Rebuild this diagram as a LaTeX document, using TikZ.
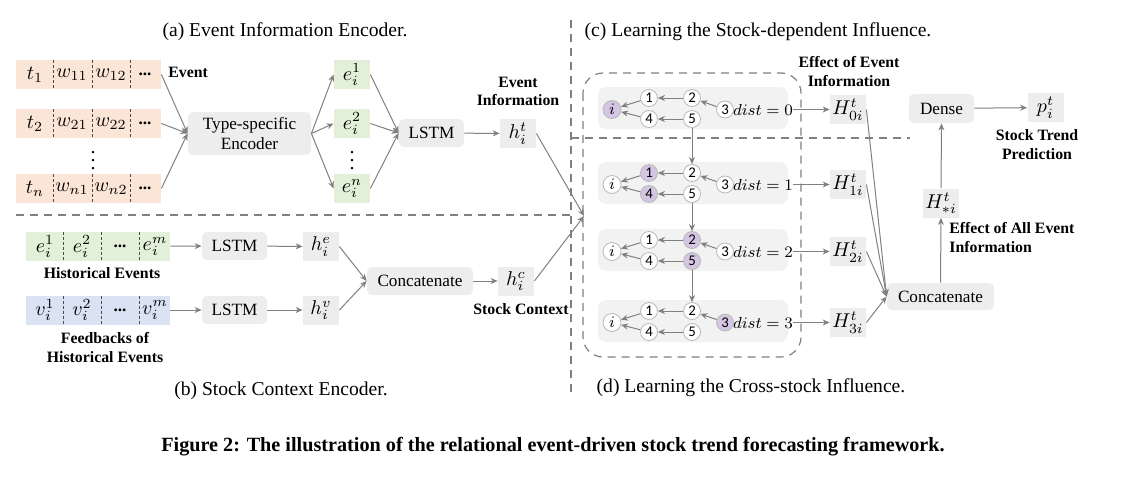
\documentclass[tikz,border=0pt]{standalone}
\usepackage{fontspec}
\setmainfont{Liberation Serif}
\newfontfamily\circfam{Carlito}
\usetikzlibrary{arrows.meta,positioning,calc}
\definecolor{evorange}{HTML}{FBE5D6}
\definecolor{evgreen}{HTML}{E2F0D9}
\definecolor{evblue}{HTML}{DAE3F3}
\definecolor{boxgray}{HTML}{EDEDED}
\definecolor{panelgray}{HTML}{F2F2F2}
\definecolor{nodehl}{HTML}{D4C5E2}
\definecolor{linegray}{HTML}{808080}
\newcommand\boxfont{\fontsize{8.6}{10}\selectfont}
\newcommand\mathfnt{\fontsize{10}{11}\selectfont}
\newcommand\lblfont{\fontsize{7.9}{9.4}\selectfont\bfseries}
\newcommand\ttlfont{\fontsize{9.8}{11}\selectfont}
\newcommand\circfont{\fontsize{7.4}{8}\selectfont\circfam}

\begin{document}
\begin{tikzpicture}[x=0.5pt, y=-0.5pt,
  b/.style={rectangle, rounded corners=2.5pt, fill=boxgray, font=\boxfont, align=center, inner sep=1pt, minimum height=14pt},
  v/.style={rectangle, fill=#1, minimum width=18pt, minimum height=14.5pt, inner sep=0pt, font=\mathfnt},
  v/.default=boxgray,
  row/.style={rectangle, fill=#1, minimum width=72.5pt, minimum height=14.5pt, inner sep=0pt},
  div/.style={line width=0.4pt, black!70, dash pattern=on 1.5pt off 1pt},
  sep/.style={line width=0.6pt, linegray, dash pattern=on 4pt off 3pt},
  arr/.style={-{Stealth[length=3.5pt,width=3pt]}, line width=0.5pt, linegray},
  lbl/.style={font=\lblfont, align=center, inner sep=0pt},
  ttl/.style={font=\ttlfont, inner sep=0pt},
  c/.style={circle, draw=gray!55, line width=0.4pt, fill=#1, minimum size=8.5pt, inner sep=0pt, font=\circfont},
  pnl/.style={rectangle, rounded corners=4pt, fill=panelgray, minimum width=95pt, minimum height=21pt}
]
  \useasboundingbox (0,0) rectangle (1123,482);
  % section titles and dividers
  \node[ttl] (ta) at (285,32) {(a) Event Information Encoder.};
  \node[ttl] (tc) at (758,32) {(c) Learning the Stock-dependent Influence.};
  \node[ttl] (tb) at (281,391) {(b) Stock Context Encoder.};
  \node[ttl] (td) at (751,388) {(d) Learning the Cross-stock Influence.};
  \draw[sep] (16,215) -- (571,215);
  \draw[sep] (571,20) -- (571,397);
  \draw[sep] (571,138) -- (910,138);
  \draw[sep, rounded corners=10pt] (583,73) rectangle (801,357);

  % (a) event rows
  \foreach \y/\k/\a/\b in {74.5/1/11/12, 123.5/2/21/22, 188.5/n/n1/n2}{
    \node[row=evorange] (ev\k) at (88.5,\y) {};
    \node[font=\mathfnt] at (35,\y) {$t_{\k}$};
    \node[font=\mathfnt] at (72,\y) {$w_{\a}$};
    \node[font=\mathfnt] at (111,\y) {$w_{\b}$};
    \node[font=\boxfont\bfseries] at (145,\y) {...};
    \foreach \x in {53,92,130} \draw[div] (\x,\y-14.5) -- (\x,\y+14.5);
  }
  \node[font=\mathfnt] (evdots) at (93,155) {$\vdots$};
  \node[lbl, anchor=west] (evlbl) at (168,72) {Event};
  \node[b, minimum width=61.5pt, minimum height=21.5pt] (enc) at (249.5,133.5) {Type-specific\\Encoder};
  \node[v=evgreen] (e1) at (352,74.5) {$e_i^1$};
  \node[v=evgreen] (e2) at (352,123.5) {$e_i^2$};
  \node[v=evgreen] (en) at (352,188.5) {$e_i^n$};
  \node[font=\mathfnt] (edots) at (352,155) {$\vdots$};
  \node[b, minimum width=32.5pt] (lstm) at (431.5,133) {LSTM};
  \node[v] (ht) at (518,133.5) {$h_i^t$};
  \node[lbl] (htlbl) at (518,91.5) {Event\\Information};
  \foreach \k in {ev1,ev2,evn} \draw[arr] (\k.east) -- (enc.west);
  \foreach \k in {e1,e2,en}{\draw[arr] (enc.east) -- (\k.west); \draw[arr] (\k.east) -- (lstm.west);}
  \draw[arr] (lstm) -- (ht);

  % (b) stock context
  \node[row=evgreen, minimum width=72pt] (hist) at (98,246.5) {};
  \node[row=evblue, minimum width=72pt] (fb) at (98,310) {};
  \foreach \y/\s in {246.5/e, 310/v}{
    \node[font=\mathfnt] at (45,\y) {$\s_i^1$};
    \node[font=\mathfnt] at (82,\y) {$\s_i^2$};
    \node[font=\boxfont\bfseries] at (120,\y) {...};
    \node[font=\mathfnt] at (155,\y) {$\s_i^m$};
    \foreach \x in {63,101,139} \draw[div] (\x,\y-14.5) -- (\x,\y+14.5);
  }
  \node[lbl] (histlbl) at (102,273) {Historical Events};
  \node[lbl] (fblbl) at (105,347.5) {Feedbacks of\\Historical Events};
  \node[b, minimum width=32.5pt] (lstme) at (234.5,246) {LSTM};
  \node[b, minimum width=32.5pt] (lstmv) at (234.5,310) {LSTM};
  \node[v] (he) at (321,246.5) {$h_i^e$};
  \node[v] (hv) at (321,310) {$h_i^v$};
  \node[b, minimum width=53pt] (cat1) at (420,281) {Concatenate};
  \node[v] (hc) at (516,281) {$h_i^c$};
  \node[lbl] (hclbl) at (521,309) {Stock Context};
  \draw[arr] (hist) -- (lstme); \draw[arr] (lstme) -- (he);
  \draw[arr] (fb) -- (lstmv); \draw[arr] (lstmv) -- (hv);
  \draw[arr] (he.east) -- (cat1.west); \draw[arr] (hv.east) -- (cat1.west);
  \draw[arr] (cat1) -- (hc);
  \coordinate (mrg) at (584,216);
  \draw[arr] (ht.east) -- (mrg); \draw[arr] (hc.east) -- (mrg);

  % (c)/(d) graph panels
  \foreach \k/\y/\ci/\ca/\cb/\cc in {0/108/nodehl/white/white/white, 1/183/white/nodehl/white/white, 2/250/white/white/nodehl/white, 3/321/white/white/white/nodehl}{
    \node[pnl] (p\k) at (693,\y) {};
    \node[c=\ci, minimum size=9pt, font=\fontsize{8}{9}\selectfont] (i\k) at (612,\y+1.5) {$i$};
    \node[c=\ca] (g\k-1) at (649,\y-10) {1};
    \node[c=\ca] (g\k-4) at (649,\y+11) {4};
    \node[c=\cb] (g\k-2) at (692,\y-10) {2};
    \node[c=\cb] (g\k-5) at (692,\y+11) {5};
    \node[c=\cc] (g\k-3) at (725,\y+1.5) {3};
    \node[font=\fontsize{7.6}{8}\selectfont, inner sep=0pt] (d\k) at (763,\y+1.5) {$dist=\k$};
    \node[v] (H\k) at (848,\y+1.5) {$H_{\k i}^t$};
    \draw[arr] (g\k-1) -- (i\k); \draw[arr] (g\k-4) -- (i\k);
    \draw[arr] (g\k-2) -- (g\k-1); \draw[arr] (g\k-5) -- (g\k-4);
    \draw[arr] (g\k-3) -- (g\k-2);
    \draw[arr] (d\k.east) -- (H\k.west);
  }
  \foreach \k/\l in {0/1,1/2,2/3} \draw[arr] (g\k-5) -- (g\l-2);

  % right column
  \node[lbl] (h0lbl) at (849,71.5) {Effect of Event\\Information};
  \node[b, minimum width=53.5pt, minimum height=13.5pt] (cat2) at (940.5,296.5) {Concatenate};
  \node[v] (hs) at (941,203) {$H_{*i}^t$};
  \node[lbl, align=left, anchor=west] (hslbl) at (949,237.5) {Effect of All Event\\Information};
  \node[b, minimum width=32.5pt, minimum height=14.5pt] (dense) at (941.5,108.5) {Dense};
  \node[v] (pt) at (1045.5,107.5) {$p_i^t$};
  \node[lbl] (ptlbl) at (1037,144.5) {Stock Trend\\Prediction};
  \foreach \k in {0,1,2,3} \draw[arr] (H\k.east) -- (cat2.west);
  \draw[arr] (cat2) -- (hs); \draw[arr] (hs) -- (dense); \draw[arr] (dense) -- (pt);

  % caption
  \node[font=\fontsize{10.1}{12}\selectfont\bfseries, inner sep=0pt] (cap) at (553,447) {Figure 2: The illustration of the relational event-driven stock trend forecasting framework.};
\end{tikzpicture}
\end{document}
